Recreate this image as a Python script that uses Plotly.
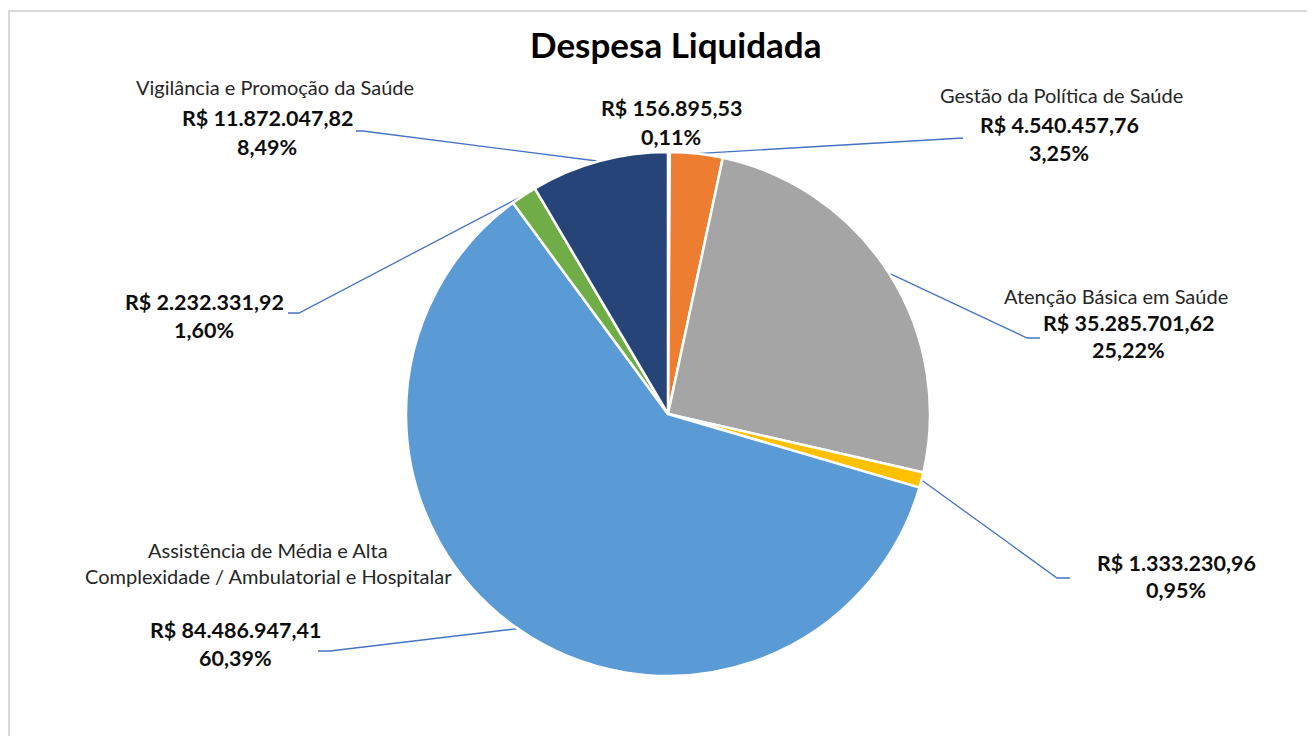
import math
import plotly.graph_objects as go

SW, SH = 1315, 744          # screen size
OFF = 8                     # page body margin in the browser
W, H = SW - OFF, SH - 2 * OFF   # figure size that fits without scrolling

# ---- data ----
categories = [
    "Outros",
    "Gestão da Política de Saúde",
    "Atenção Básica em Saúde",
    "Alimentação e Nutrição",
    "Assistência de Média e Alta Complexidade / Ambulatorial e Hospitalar",
    "Suporte Profilático e Terapêutico",
    "Vigilância e Promoção da Saúde",
]
values = [156895.53, 4540457.76, 35285701.62, 1333230.96, 84486947.41, 2232331.92, 11872047.82]
value_labels = ["R$ 156.895,53", "R$ 4.540.457,76", "R$ 35.285.701,62", "R$ 1.333.230,96",
                "R$ 84.486.947,41", "R$ 2.232.331,92", "R$ 11.872.047,82"]
pct_labels = ["0,11%", "3,25%", "25,22%", "0,95%", "60,39%", "1,60%", "8,49%"]
name_labels = [None, ["Gestão da Política de Saúde"], ["Atenção Básica em Saúde"], None,
               ["Assistência de Média e Alta", "Complexidade / Ambulatorial e Hospitalar"],
               None, ["Vigilância e Promoção da Saúde"]]
colors = ["#4472C4", "#ED7D31", "#A5A5A5", "#FFC000", "#5B9BD5", "#70AD47", "#264478"]

# ---- layout constants (screen pixels) ----
CX, CY, R = 668, 414, 262
FONT = "Lato"
label_pos = [
    (671, [], 108, 137),
    (1059, [95], 125, 153),
    (1128, [296], 323, 350),
    (1176, [], 563, 590),
    (235, [550, 576], 630, 658),
    (204, [], 302, 330),
    (267, [87], 118, 147),
]
name_x = [None, 1061, 1116, None, 268, None, 275]
leader = [
    None,
    [(963, 138)],
    [(1027, 338), (1040, 338)],
    [(1057, 578), (1070, 578)],
    [(330, 651), (318, 651)],
    [(299, 313), (288, 313)],
    [(363, 131), (356, 131)],
]

fig = go.Figure()

fig.add_trace(go.Pie(
    labels=categories, values=values, sort=False, direction="clockwise", rotation=0,
    marker=dict(colors=colors, line=dict(color="white", width=2.5)),
    textinfo="none", hoverinfo="label+value+percent", showlegend=False,
    domain=dict(x=[(CX - OFF - R) / W, (CX - OFF + R) / W],
                y=[1 - (CY - OFF + R) / H, 1 - (CY - OFF - R) / H]),
))

total = sum(values)
cum = 0.0
annotations = []
for i, v in enumerate(values):
    mid = (cum + v / 2) / total * 2 * math.pi
    cum += v
    if leader[i]:
        ex = CX + R * math.sin(mid)
        ey = CY - R * math.cos(mid)
        xs = [ex] + [p[0] for p in leader[i]]
        ys = [ey] + [p[1] for p in leader[i]]
        fig.add_trace(go.Scatter(x=xs, y=ys, mode="lines", line=dict(color="#4472C4", width=1.3),
                                 hoverinfo="skip", showlegend=False))
    lx, name_ys, vy, py = label_pos[i]
    if name_labels[i]:
        for txt, ny in zip(name_labels[i], name_ys):
            annotations.append(dict(x=name_x[i], y=ny, text=txt, showarrow=False, xref="x", yref="y",
                                    font=dict(family=FONT, size=20, color="#262626")))
    annotations.append(dict(x=lx, y=vy, text="<b>" + value_labels[i] + "</b>", showarrow=False,
                            xref="x", yref="y", font=dict(family=FONT, size=21.5, color="#0D0D0D")))
    annotations.append(dict(x=lx, y=py, text="<b>" + pct_labels[i] + "</b>", showarrow=False,
                            xref="x", yref="y", font=dict(family=FONT, size=21.5, color="#0D0D0D")))

annotations.append(dict(x=676, y=44, text="<b>Despesa Liquidada</b>", showarrow=False, xref="x", yref="y",
                        font=dict(family=FONT, size=35, color="#000000")))

fig.update_layout(
    width=W, height=H, margin=dict(l=0, r=0, t=0, b=0),
    paper_bgcolor="white", plot_bgcolor="rgba(0,0,0,0)",
    xaxis=dict(range=[OFF, W + OFF], visible=False, fixedrange=True),
    yaxis=dict(range=[H + OFF, OFF], visible=False, fixedrange=True),
    annotations=annotations,
    shapes=[dict(type="rect", xref="paper", yref="paper",
                 x0=1 / W, y0=-0.1, x1=1.1, y1=1 - (11 - OFF) / H,
                 line=dict(color="#D9D9D9", width=2), layer="below")],
)

fig.write_html("out.html")
